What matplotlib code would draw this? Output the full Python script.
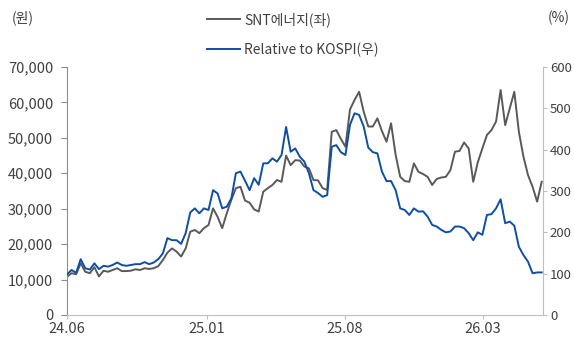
import numpy as np
import pandas as pd
import matplotlib
matplotlib.use("Agg")
import matplotlib.pyplot as plt

plt.rcParams['font.family'] = ['Noto Sans CJK KR', 'DejaVu Sans']

# weekly points, 2024.06 ~ 2026.06
dates = pd.date_range('2024-06-01', periods=105, freq='7D')

# SNT에너지 주가 (원)
snt_price = [10800, 11800, 11500, 14600, 12200, 11800, 13500, 10900, 12500, 12200,
             12700, 13200, 12400, 12400, 12500, 12900, 12700, 13200, 13000, 13200,
             13800, 15500, 17600, 18800, 17900, 16500, 18800, 23500, 24000, 23100,
             24500, 25400, 30100, 27700, 24500, 28700, 32500, 35800, 36200, 32300,
             31700, 29800, 29200, 34800, 35800, 36700, 38100, 37600, 45000, 42300,
             43700, 43600, 41900, 41400, 38100, 38000, 35800, 35300, 51700, 52200,
             49700, 47500, 58000, 60700, 63000, 57400, 53200, 53200, 55500, 51900,
             48900, 54100, 45200, 39000, 37800, 37600, 42800, 40400, 39800, 39000,
             36700, 38400, 38800, 39000, 40900, 46100, 46300, 48700, 47000, 37600,
             43100, 47000, 50800, 52200, 54600, 63500, 53600, 58300, 63000, 51700,
             44700, 39500, 36200, 32000, 37600]

# Relative to KOSPI (%)
rel_kospi = [98, 109, 102, 135, 113, 110, 125, 111, 119, 117,
             121, 127, 121, 119, 121, 123, 123, 128, 123, 127,
             135, 149, 186, 181, 181, 172, 198, 248, 258, 246,
             258, 254, 302, 294, 258, 262, 282, 343, 347, 325,
             302, 331, 315, 367, 367, 379, 371, 387, 455, 395,
             403, 383, 371, 343, 302, 295, 286, 290, 407, 411,
             394, 387, 460, 488, 484, 456, 405, 394, 391, 347,
             324, 324, 302, 258, 254, 242, 258, 250, 251, 238,
             218, 214, 206, 200, 202, 214, 214, 210, 198, 181,
             200, 194, 242, 244, 258, 280, 222, 226, 216, 165,
             145, 129, 101, 103, 103]

tick_dates = pd.to_datetime(['2024-06-01', '2025-01-01', '2025-08-01', '2026-03-01'])
tick_labels = ['24.06', '25.01', '25.08', '26.03']

gray = '#595959'
blue = '#0d4ea6'
txt = '#404040'

fig = plt.figure(figsize=(5.74, 3.43), dpi=100)
ax = fig.add_axes([67/574, 1-315/343, 476/574, 248/343])
ax2 = ax.twinx()

l1, = ax.plot(dates, snt_price, color=gray, lw=1.4, label='SNT에너지(좌)')
l2, = ax2.plot(dates, rel_kospi, color=blue, lw=1.4, label='Relative to KOSPI(우)')

ax.set_xlim(pd.Timestamp('2024-06-01'), pd.Timestamp('2026-06-01'))
ax.set_ylim(0, 70000)
ax2.set_ylim(0, 600)

ax.set_yticks(np.arange(0, 70001, 10000))
ax.set_yticklabels([f'{v:,}' for v in range(0, 70001, 10000)])
ax2.set_yticks(np.arange(0, 601, 100))
ax.set_xticks(tick_dates)
ax.set_xticklabels(tick_labels)

for a in (ax, ax2):
    a.spines['top'].set_visible(False)
ax.spines['right'].set_visible(False)
ax2.spines['left'].set_visible(False)
ax.spines['left'].set_color('#8c8c8c')
ax.spines['bottom'].set_color('#bfbfbf')
ax2.spines['right'].set_color('#bfbfbf')
ax2.spines['bottom'].set_visible(False)

ax.tick_params(axis='y', direction='out', length=4, color='#8c8c8c', labelsize=10.5,
               labelcolor=txt, pad=6)
ax.tick_params(axis='x', direction='out', length=3, color='#bfbfbf', labelsize=10.5,
               labelcolor=txt, pad=2)
ax2.tick_params(axis='y', direction='out', length=3, color='#bfbfbf', labelsize=9.5,
                labelcolor=txt, pad=2)

fig.text(12/574, 1-18/343, '(원)', fontsize=10, color=txt, va='center', ha='left')
fig.text(548/574, 1-18/343, '(%)', fontsize=10, color=txt, va='center', ha='left')

fig.legend(handles=[l1, l2], loc='upper left', bbox_to_anchor=(194/574, 1.0),
           frameon=False, fontsize=10, handlelength=2.4, handletextpad=0.3,
           labelspacing=1.1, labelcolor=txt)

fig.savefig('out.png', dpi=100)
